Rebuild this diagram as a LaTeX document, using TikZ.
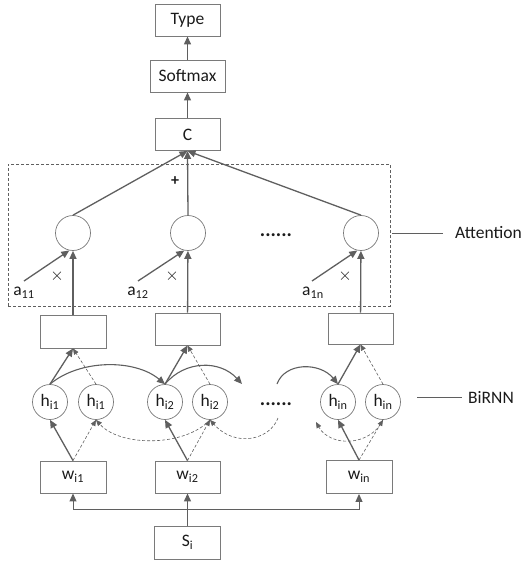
\documentclass[tikz,border=0pt]{standalone}
\usepackage{fontspec}
\setmainfont{Carlito}
\usetikzlibrary{arrows.meta}
\definecolor{linec}{HTML}{5F5F5F}
\definecolor{boxc}{HTML}{7A7A7A}
\definecolor{txt}{HTML}{1A1A1A}
\begin{document}
\begin{tikzpicture}[x=1pt,y=-1pt,
  font=\fontsize{17.5}{21}\selectfont,
  box/.style={draw=boxc, line width=0.9pt, minimum width=65pt, minimum height=32pt, inner sep=0pt, text=txt},
  circ/.style={draw=boxc, line width=0.7pt, circle, minimum size=35pt, inner sep=0pt, text=txt},
  arr/.style={draw=linec, line width=1.3pt, -{Triangle[length=8pt,width=7pt]}},
  carr/.style={draw=linec, line width=1.1pt, -{Triangle[length=8pt,width=7pt]}},
  darr/.style={draw=linec, line width=0.6pt, dash pattern=on 3pt off 2pt, -{Triangle[length=6pt,width=5pt]}},
  plain/.style={draw=linec, line width=0.8pt},
  lbl/.style={text=txt, inner sep=0pt},
  small/.style={lbl, font=\fontsize{16}{16}\selectfont}]
\useasboundingbox (0,0) rectangle (523,564);
% top chain
\node[box] (type) at (187.5,20) {Type};
\node[box, minimum width=75pt] (soft) at (187.5,76) {Softmax};
\node[box] (C) at (187.5,134.5) {C};
\draw[arr] (soft) -- (type);
\draw[arr] (C) -- (soft);
% attention block
\node[draw=linec, line width=0.6pt, dash pattern=on 3pt off 2pt, minimum width=382pt, minimum height=142pt, inner sep=0pt] (att) at (199,235) {};
\node[circ] (c1) at (73,233) {};
\node[circ] (c2) at (188,233) {};
\node[circ] (c3) at (361,233) {};
\node[lbl, anchor=base, font=\fontsize{20}{20}\bfseries\selectfont] (dots1) at (276,236) {......};
\draw[arr] (c1.north) -- (C.south);
\draw[arr] (c2.north) -- (C.south);
\draw[arr] (c3.north) -- (C.south);
\node[small] (plus) at (175,181) {\textbf{+}};
\node[lbl, anchor=west] (attl) at (455,233) {Attention};
\draw[plain] ([xshift=2pt]att.east |- attl.west) -- ([xshift=-12pt]attl.west);
% weights
\node[lbl] (a11) at (24,293) {a\textsubscript{11}};
\node[lbl] (a12) at (138,293) {a\textsubscript{12}};
\node[lbl] (a1n) at (313,293) {a\textsubscript{1n}};
\coordinate (a11s) at (24,281);
\coordinate (a12s) at (138,281);
\coordinate (a1ns) at (312,281);
\draw[arr] (a11s) -- (c1.258);
\draw[arr] (a12s) -- (c2.258);
\draw[arr] (a1ns) -- (c3.258);
\node[small] (x1) at (57,276) {$\times$};
\node[small] (x2) at (172,276) {$\times$};
\node[small] (x3) at (345,276) {$\times$};
% hidden concat boxes
\node[box, minimum width=66pt, minimum height=33pt] (r1) at (73,331.5) {};
\node[box] (r2) at (187.5,329) {};
\node[box, minimum height=31pt] (r3) at (360.5,328.5) {};
\draw[arr] (r1) -- (c1);
\draw[arr] (r2) -- (c2);
\draw[arr] (r3) -- (c3);
% BiRNN
\node[circ] (h1) at (50,402) {h\textsubscript{i1}};
\node[circ] (h1b) at (96,402) {h\textsubscript{i1}};
\node[circ] (h2) at (165,402) {h\textsubscript{i2}};
\node[circ] (h2b) at (210,402) {h\textsubscript{i2}};
\node[circ] (hn) at (338,402) {h\textsubscript{in}};
\node[circ] (hnb) at (383,402) {h\textsubscript{in}};
\node[lbl, anchor=base, font=\fontsize{20}{20}\bfseries\selectfont] (dots2) at (276,405) {......};
\coordinate (bl) at (417,397);
\node[lbl, anchor=west] (birnn) at (468,397) {BiRNN};
\draw[plain] (bl) -- ([xshift=-6pt]birnn.west);
\draw[arr] (h1.north) -- (r1.south);
\draw[darr] (h1b.north) -- (r1.south);
\draw[arr] (h2.north) -- (r2.south);
\draw[darr] (h2b.north) -- (r2.south);
\draw[arr] (hn.north) -- (r3.south);
\draw[darr] (hnb.north) -- (r3.south);
% recurrent connections
\coordinate (f2e) at (242,384);
\coordinate (f3s) at (277,384);
\draw[carr] (h1.north) .. controls (80,359) and (135,359) .. (h2.north);
\draw[carr] (h2.north) .. controls (185,360) and (220,360) .. (f2e);
\draw[carr] (f3s) .. controls (285,362) and (320,362) .. (hn.north);
\coordinate (d2s) at (278,418);
\coordinate (d3e) at (316,422);
\draw[darr] (h2b.south) .. controls (185,447) and (120,447) .. (h1b.south);
\draw[darr] (d2s) .. controls (270,440) and (235,448) .. (h2b.south);
\draw[darr] (hnb.south) .. controls (370,447) and (330,447) .. (d3e);
% words
\node[box, minimum width=66pt] (w1) at (73,477) {w\textsubscript{i1}};
\node[box] (w2) at (187.5,477) {w\textsubscript{i2}};
\node[box, minimum width=66pt, minimum height=33pt] (wn) at (359,477) {w\textsubscript{in}};
\draw[arr] (w1.north) -- (h1.south);
\draw[darr] (w1.north) -- (h1b.south);
\draw[arr] (w2.north) -- (h2.south);
\draw[darr] (w2.north) -- (h2b.south);
\draw[arr] (wn.north) -- (hn.south);
\draw[darr] (wn.north) -- (hnb.south);
% sentence
\node[box, minimum width=66pt, minimum height=33pt] (S) at (187.5,542.5) {S\textsubscript{i}};
\draw[arr] (S) -- (w2);
\draw[arr, line width=1pt] (S.north) -- ++(0,-16) -| (w1.south);
\draw[arr, line width=1pt] (S.north) -- ++(0,-16) -| (wn.south);
\end{tikzpicture}
\end{document}
